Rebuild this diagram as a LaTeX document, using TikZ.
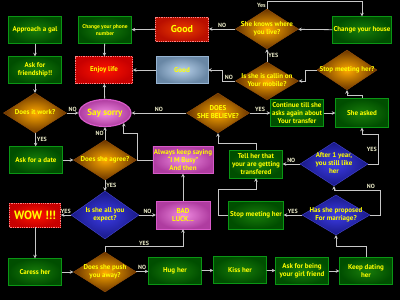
\documentclass[tikz,border=0pt]{standalone}
\usepackage{fontspec}
\setmainfont{PT Sans}
\usetikzlibrary{shapes.geometric,arrows.meta,calc}

\definecolor{gin}{RGB}{25,125,10}
\definecolor{gout}{RGB}{0,78,0}
\definecolor{gline}{RGB}{10,150,20}
\definecolor{oin}{RGB}{255,170,0}
\definecolor{oout}{RGB}{105,52,0}
\definecolor{oline}{RGB}{150,80,10}
\definecolor{bin}{RGB}{60,60,230}
\definecolor{bout}{RGB}{25,25,135}
\definecolor{bline}{RGB}{70,70,210}
\definecolor{rin}{RGB}{255,20,0}
\definecolor{rout}{RGB}{200,0,0}
\definecolor{rline}{RGB}{255,130,130}
\definecolor{pin}{RGB}{240,140,225}
\definecolor{pout}{RGB}{175,60,160}
\definecolor{pline}{RGB}{215,90,200}
\definecolor{sin}{RGB}{185,210,235}
\definecolor{sout}{RGB}{105,135,165}
\definecolor{sline}{RGB}{150,180,210}
\definecolor{txt}{RGB}{255,255,0}
\definecolor{wire}{RGB}{200,200,200}
\definecolor{lblc}{RGB}{235,235,200}

% text of a diamond, kept out of the shape size
\newcommand{\dlines}[1]{\smash{\raisebox{-.25em}{\makebox[0pt]{\begin{tabular}{@{}c@{}}#1\end{tabular}}}}}

\begin{document}
\begin{tikzpicture}[x=1pt, y=-1pt,
    base/.style={font=\bfseries\fontsize{7}{8}\selectfont, text=txt, align=center, inner sep=1pt},
    gbox/.style={base, rectangle, minimum width=53, minimum height=27, draw=gline, inner color=gin, outer color=gout},
    rbox/.style={base, rectangle, minimum width=53, minimum height=26, draw=rline, densely dotted, line width=.8pt, inner color=rin, outer color=rout},
    pbox/.style={base, rectangle, minimum width=54, minimum height=27, draw=pline, inner color=pin, outer color=pout},
    sbox/.style={base, rectangle, minimum width=52, minimum height=27, draw=sline, inner color=sin, outer color=sout},
    oval/.style={base, ellipse, minimum width=52, minimum height=27, inner sep=0pt, draw=pline, line width=1.2pt, inner color=pin, outer color=pout},
    odia/.style={base, diamond, minimum width=63, minimum height=40, inner sep=0pt, draw=oline, inner color=oin, outer color=oout},
    bdia/.style={base, diamond, minimum width=68, minimum height=44, inner sep=0pt, draw=bline, inner color=bin, outer color=bout},
    conn/.style={draw=wire, line width=.8pt, -{Stealth[length=3.5pt, width=3.5pt]}},
    lbl/.style={font=\bfseries\fontsize{6}{7}\selectfont, text=lblc, inner sep=1pt}
]
    \fill[black] (0,0) rectangle (400,300);
    \useasboundingbox (0,0) rectangle (400,300);

    % top row
    \node[gbox] (approach) at (35,30) {Approach a gal};
    \node[gbox, font=\bfseries\fontsize{5.5}{6.5}\selectfont] (phone) at (105,30) {Change your phone\\number};
    \node[rbox, font=\bfseries\fontsize{10}{12}\selectfont, minimum height=24, inner color={rgb,255:red,235;green,60;blue,0}, outer color={rgb,255:red,185;green,15;blue,0}] (goodr) at (182,29) {Good};
    \node[odia] (knows) at (267,29) {\dlines{She knows where\\you live?}};
    \node[gbox] (house) at (362,30) {Change your house};

    % second row
    \node[gbox] (askfr) at (35,70) {Ask for\\friendship!!};
    \node[rbox, minimum width=57, minimum height=27] (enjoy) at (104,70) {Enjoy life};
    \node[sbox] (goodb) at (182,70) {Good};
    \node[odia, minimum height=38] (callin) at (267,81) {\dlines{Is she is callin on\\Your mobile?}};
    \node[odia, minimum width=60] (stopq) at (347,70) {\dlines{Stop meeting her?}};

    % third row
    \node[odia] (work) at (35,113) {\dlines{Does it work?}};
    \node[oval, font=\bfseries\fontsize{9}{10}\selectfont] (sorry) at (105,113) {Say sorry};
    \node[odia] (believe) at (218,113) {\dlines{DOES\\SHE BELIEVE?}};
    \node[gbox] (continue) at (297,113) {Continue till she\\asks again about\\Your transfer};
    \node[gbox, minimum height=29] (asked) at (362,113) {She asked};

    % fourth row
    \node[gbox] (date) at (36,160) {Ask for a date};
    \node[odia] (agree) at (105,160) {\dlines{Does she agree?}};
    \node[pbox] (always) at (183,160) {Always keep saying\\``I M Busy''\\And then};
    \node[gbox, minimum height=28] (tell) at (256,164) {Tell her that\\your are getting\\transfered};
    \node[bdia] (after) at (334,164) {\dlines{After 1 year,\\you still like\\her}};

    % fifth row
    \node[rbox, font=\bfseries\fontsize{12}{14}\selectfont, minimum width=51, minimum height=24] (wow) at (35,215) {WOW !!!};
    \node[bdia, minimum height=48] (expect) at (105,215) {\dlines{Is she all you\\expect?}};
    \node[pbox, minimum height=28] (badluck) at (183,215) {BAD\\LUCK...};
    \node[gbox, minimum width=55, minimum height=28] (stop) at (256,215) {Stop meeting her};
    \node[bdia, minimum height=40] (proposed) at (336,215) {\dlines{Has she proposed\\For marriage?}};

    % bottom row
    \node[gbox] (caress) at (35,272) {Caress her};
    \node[odia] (push) at (105,272) {\dlines{Does she push\\you away?}};
    \node[gbox] (hug) at (175,271) {Hug her};
    \node[gbox] (kiss) at (240,270) {Kiss her};
    \node[gbox] (askgf) at (302,271) {Ask for being\\your girl friend};
    \node[gbox] (keep) at (366,271) {Keep dating\\her};

    % connectors
    \draw[conn] (approach) -- (askfr);
    \draw[conn] (askfr) -- (work);
    \draw[conn] (work) -- node[lbl, above] {NO} (sorry);
    \draw[conn] (work) -- node[lbl, right] {YES} (date);
    \draw[conn] (date) -- (agree);
    \draw[conn] (agree) -- node[lbl, left] {NO} (sorry);
    \draw[conn] (agree) -- node[lbl, right] {YES} (expect);
    \draw[conn] (expect) -- node[lbl, above] {YES} (wow);
    \draw[conn] (expect) -- node[lbl, above] {NO} (badluck);
    \draw[conn] (wow) -- (caress);
    \draw[conn] (caress) -- (push);
    \draw[conn] (push) -- node[lbl, above] {NO} (hug);
    \draw[conn] (push.north) -- ++(0,-5) -| node[lbl, above, pos=.25] {YES} (badluck.south);
    \draw[conn] (hug) -- (kiss);
    \draw[conn] (kiss) -- (askgf);
    \draw[conn] (askgf) -- (keep);
    \draw[conn] (keep.north) -- ++(0,-11) -| (proposed.south);
    \draw[conn] (proposed) -- node[lbl, above] {YES} (stop);
    \draw[conn] (proposed.east) -- ++(10,0) |- node[lbl, above, pos=.6] {NO} ($(after.south)+(0,4)$) -- (after.south);
    \draw[conn] (after) -- node[lbl, above] {NO} (tell);
    \draw[conn] (after.east) -- ++(10,0) |- node[lbl, left, pos=.25] {YES} ($(asked.south)+(0,7)$) -- (asked.south);
    \draw[conn] (stop.west) -- ++(-10,0) |- ($(tell.south)+(0,11)$) -- (tell.south);
    \draw[conn] (tell.north) -- ++(0,-6) -| (believe.south);
    \draw[conn] (badluck) -- (always);
    \draw[conn] (always.west) -- ++(-15,0) |- ($(sorry.south east)+(0,10)$) -- (sorry.south east);
    \draw[conn] (believe) -- node[lbl, above] {NO} (sorry);
    \draw[conn] (believe) -- node[lbl, above] {YES} (continue);
    \draw[conn] (continue) -- (asked);
    \draw[conn] (asked.north) -- ++(0,-3) -| (stopq.south);
    \draw[conn] (stopq.west) -- ++(-11,0) |- (callin.east);
    \draw[conn] (callin) -- node[lbl, right] {YES} (knows);
    \draw[conn] (callin.west) -- ++(-13,0) node[lbl, above, midway] {NO} |- (goodb.east);
    \draw[conn] (house) -- (knows);
    \draw[conn] (knows) -- node[lbl, above] {NO} (goodr);
    \draw[conn] (knows.north) -- ++(0,-7) node[lbl, left, midway] {Yes} -| (house.north);
    \draw[conn] (goodr) -- (phone);
    \draw[conn] (phone) -- (enjoy);
    \draw[conn] (goodb) -- (enjoy);
    \draw[conn] (sorry) -- (enjoy);
\end{tikzpicture}
\end{document}
